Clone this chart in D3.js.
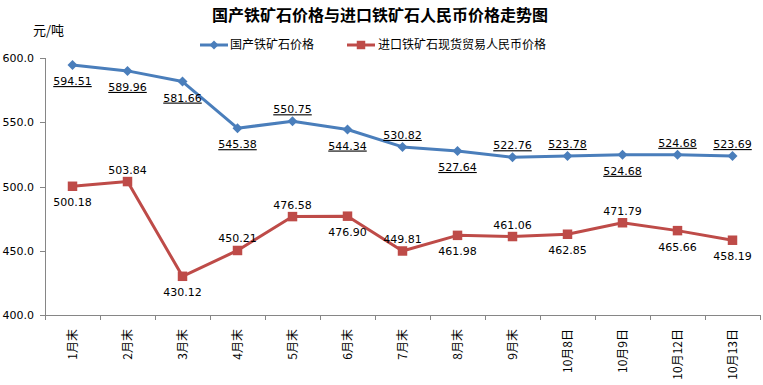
<!DOCTYPE html>
<html lang="zh">
<head>
<meta charset="UTF-8">
<title>国产铁矿石价格与进口铁矿石人民币价格走势图</title>
<script src="https://d3js.org/d3.v7.min.js"></script>
<style>
body { margin: 0; background: #fff; font-family: "Noto Sans CJK SC", "DejaVu Sans", sans-serif; }
.axis path, .axis line { stroke: #868686; shape-rendering: crispEdges; }
.axis text { font-size: 11px; fill: #000; font-family: "DejaVu Sans", "Noto Sans CJK SC", sans-serif; }
.lbl { font-size: 11px; font-family: "DejaVu Sans", sans-serif; }
</style>
</head>
<body>
<script>
var categories = ["1月末", "2月末", "3月末", "4月末", "5月末", "6月末", "7月末", "8月末", "9月末", "10月8日", "10月9日", "10月12日", "10月13日"];
var domestic = [594.51, 589.96, 581.66, 545.38, 550.75, 544.34, 530.82, 527.64, 522.76, 523.78, 524.68, 524.68, 523.69];
var imported = [500.18, 503.84, 430.12, 450.21, 476.58, 476.90, 449.81, 461.98, 461.06, 462.85, 471.79, 465.66, 458.19];
// label above (1) or below (0) the point
var domesticAbove = [0, 0, 0, 0, 1, 0, 1, 0, 1, 1, 0, 1, 1];
var importedAbove = [0, 1, 0, 1, 1, 0, 1, 0, 1, 0, 1, 0, 0];
var yTicks = [400, 450, 500, 550, 600];

var W = 763, H = 385;
var plotLeft = 45, plotRight = 760, plotTop = 58, plotBottom = 315;

var svg = d3.select("body").append("svg").attr("width", W).attr("height", H);

var x = d3.scaleBand().domain(categories).range([plotLeft, plotRight]);
var y = d3.scaleLinear().domain([400, 600]).range([plotBottom, plotTop]);

// title
svg.append("text")
    .attr("x", 380).attr("y", 21)
    .attr("text-anchor", "middle")
    .style("font-size", "16px").style("font-weight", "bold")
    .style("font-family", "'Noto Sans CJK SC', sans-serif")
    .text("国产铁矿石价格与进口铁矿石人民币价格走势图");

svg.append("text")
    .attr("x", 33).attr("y", 35)
    .style("font-size", "13px")
    .text("元/吨");

// y axis
var yAxis = svg.append("g").attr("class", "axis")
    .attr("transform", "translate(" + plotLeft + ",0)")
    .call(d3.axisLeft(y).tickValues(yTicks).tickSize(5).tickPadding(6).tickFormat(d3.format(".1f")));
yAxis.select(".domain").attr("d", "M0," + plotTop + "V" + plotBottom);

// x axis
var xg = svg.append("g").attr("class", "axis")
    .attr("transform", "translate(0," + plotBottom + ")");
xg.append("line").attr("x1", plotLeft).attr("x2", plotRight).attr("y1", 0).attr("y2", 0);
xg.selectAll(".tk").data(categories.concat(["end"])).enter().append("line")
    .attr("x1", function(d, i) { return plotLeft + i * x.step(); })
    .attr("x2", function(d, i) { return plotLeft + i * x.step(); })
    .attr("y1", 0).attr("y2", 5);
xg.selectAll(".xl").data(categories).enter().append("text")
    .attr("transform", function(d) { return "translate(" + (x(d) + x.bandwidth() / 2 + 4) + ",14) rotate(-90)"; })
    .attr("text-anchor", "end")
    .style("font-size", "12px")
    .style("font-family", "'Noto Sans CJK SC', sans-serif")
    .text(function(d) { return d; });

var cx = function(d, i) { return x(categories[i]) + x.bandwidth() / 2; };
var line = d3.line().x(cx).y(function(d) { return y(d); });

var series = [
  { name: "国产铁矿石价格", values: domestic, above: domesticAbove, color: "#4a7ebb", size: 50, rot: 45, underline: true },
  { name: "进口铁矿石现货贸易人民币价格", values: imported, above: importedAbove, color: "#be4b48", size: 90, rot: 0, underline: false }
];

series.forEach(function(s) {
  svg.append("path").datum(s.values)
    .attr("fill", "none").attr("stroke", s.color).attr("stroke-width", 3)
    .attr("stroke-linejoin", "round")
    .attr("d", line);
  svg.selectAll(null).data(s.values).enter().append("path")
    .attr("d", d3.symbol().type(d3.symbolSquare).size(s.size))
    .attr("fill", s.color)
    .attr("transform", function(d, i) { return "translate(" + cx(d, i) + "," + y(d) + ") rotate(" + s.rot + ")"; });
  svg.selectAll(null).data(s.values).enter().append("text")
    .attr("class", "lbl")
    .attr("x", cx)
    .attr("y", function(d, i) { return y(d) + (s.above[i] ? -8 : 20); })
    .attr("text-anchor", "middle")
    .style("text-decoration", s.underline ? "underline" : null)
    .text(function(d) { return d.toFixed(2); });
});

// legend
var lg = [{ x: 200, tx: 230 }, { x: 347, tx: 378 }];
series.forEach(function(s, i) {
  var g = svg.append("g");
  g.append("line").attr("x1", lg[i].x).attr("x2", lg[i].x + 28).attr("y1", 45).attr("y2", 45)
    .attr("stroke", s.color).attr("stroke-width", 3);
  g.append("path").attr("d", d3.symbol().type(d3.symbolSquare).size(s.size * 0.8))
    .attr("fill", s.color).attr("transform", "translate(" + (lg[i].x + 14) + ",45) rotate(" + s.rot + ")");
  g.append("text").attr("x", lg[i].tx).attr("y", 49)
    .style("font-size", "12px").text(s.name);
});
</script>
</body>
</html>
